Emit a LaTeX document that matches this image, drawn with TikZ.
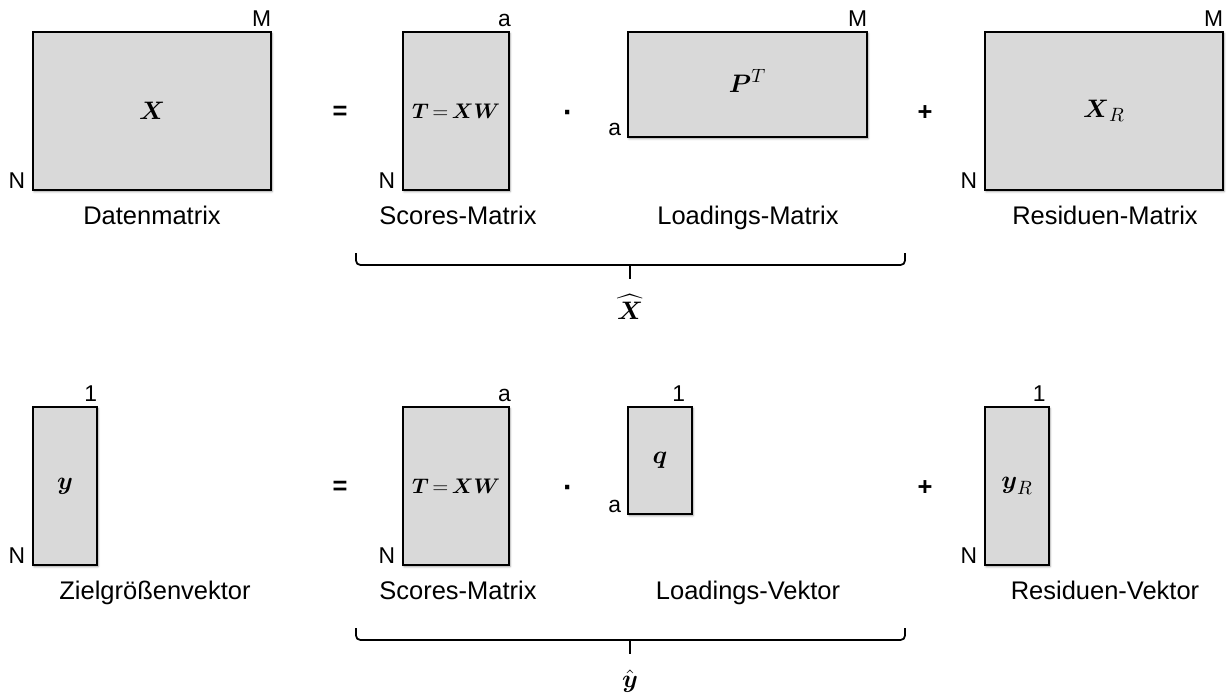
\documentclass[tikz,border=0pt]{standalone}
\usepackage{amsmath}
\usepackage{fontspec}
\setmainfont{Liberation Sans}
\usetikzlibrary{positioning,fit,shadows.blur}
\definecolor{boxgray}{HTML}{D9D9D9}
\newcommand{\scoreseq}{\boldsymbol{T}\,{=}\,\boldsymbol{XW}}
\tikzset{
    matbox/.style={draw=black, line width=0.6pt, fill=boxgray, inner sep=0pt,
        blur shadow={shadow xshift=0.6pt, shadow yshift=-0.9pt,
            shadow blur radius=1.2pt, shadow opacity=40}},
    entry/.style={inner sep=0pt, font=\fontsize{15}{18}\selectfont},
    smallentry/.style={inner sep=0pt, font=\fontsize{12.5}{15}\selectfont},
    dimlabel/.style={inner sep=0pt, font=\fontsize{13}{15}\selectfont},
    caption/.style={inner sep=0pt, anchor=base, font=\fontsize{14.5}{17}\selectfont},
    oper/.style={inner sep=0pt, font=\fontsize{14.5}{17}\selectfont\bfseries},
    mult/.style={inner sep=0pt, anchor=base, font=\fontsize{17}{19}\selectfont\bfseries},
    bracket/.style={line width=1pt, rounded corners=2.5pt},
}

\begin{document}
\begin{tikzpicture}[x=0.02cm, y=-0.02cm]
\useasboundingbox (0,0) rectangle (1227,697);
% upper row: X = T P^T + X_R
\node[matbox, fit={(33,32) (271,190)}] (X) {};
\node[entry] (Xtxt) at (X) {$\boldsymbol{X}$};
\node[dimlabel, anchor=base east] (XM) at ([yshift=2.8pt]X.north east) {M};
\node[dimlabel, anchor=base east] (XN) at ([xshift=-4pt, yshift=1pt]X.south west) {N};
\node[caption] (Xcap) at (152,224) {Datenmatrix};
\node[oper] (eqX) at (340,113) {=};
\node[matbox, fit={(403,32) (509,190)}] (T) {};
\node[smallentry] (Ttxt) at (T) {$\scoreseq$};
\node[dimlabel, anchor=base east] (Ta) at ([xshift=1pt, yshift=2.8pt]T.north east) {a};
\node[dimlabel, anchor=base east] (TN) at ([xshift=-4pt, yshift=1pt]T.south west) {N};
\node[caption] (Tcap) at (458,224) {Scores-Matrix};
\node[mult] (dotX) at (568,122) {·};
\node[matbox, fit={(628,32) (867,137)}] (P) {};
\node[entry] (Ptxt) at ([yshift=2pt]P) {$\boldsymbol{P}^T$};
\node[dimlabel, anchor=base east] (PM) at ([yshift=2.8pt]P.north east) {M};
\node[dimlabel, anchor=base east] (Pa) at ([xshift=-3.5pt, yshift=1pt]P.south west) {a};
\node[caption] (Pcap) at (748,224) {Loadings-Matrix};
\node[oper] (plusX) at (925,113) {+};
\node[matbox, fit={(985,32) (1223,190)}] (XR) {};
\node[entry] (XRtxt) at (XR) {$\boldsymbol{X}_R$};
\node[dimlabel, anchor=base east] (XRM) at ([yshift=2.8pt]XR.north east) {M};
\node[dimlabel, anchor=base east] (XRN) at ([xshift=-4pt, yshift=1pt]XR.south west) {N};
\node[caption] (XRcap) at (1105,224) {Residuen-Matrix};
% bracket under T P^T
\coordinate (bxl) at (356,253);
\coordinate (bxr) at (905,253);
\coordinate (bxm) at (630,265);
\coordinate (bxt) at (630,279);
\draw[bracket] (bxl) |- (bxm) -| (bxr);
\draw[line width=1pt] (bxm) -- (bxt);
\node[entry] (Xhat) at (630,307) {$\widehat{\boldsymbol{X}}$};

% lower row: y = T q + y_R
\node[matbox, fit={(33,407) (97,565)}] (y) {};
\node[entry] (ytxt) at (y) {$\boldsymbol{y}$};
\node[dimlabel, anchor=base east] (y1) at ([yshift=2.8pt]y.north east) {1};
\node[dimlabel, anchor=base east] (yN) at ([xshift=-4pt, yshift=1pt]y.south west) {N};
\node[caption] (ycap) at (155,599) {Zielgrößenvektor};
\node[oper] (eqy) at (340,488) {=};
\node[matbox, fit={(403,407) (509,565)}] (T2) {};
\node[smallentry] (T2txt) at (T2) {$\scoreseq$};
\node[dimlabel, anchor=base east] (T2a) at ([xshift=1pt, yshift=2.8pt]T2.north east) {a};
\node[dimlabel, anchor=base east] (T2N) at ([xshift=-4pt, yshift=1pt]T2.south west) {N};
\node[caption] (T2cap) at (458,599) {Scores-Matrix};
\node[mult] (doty) at (568,497) {·};
\node[matbox, fit={(628,407) (692,514)}] (q) {};
\node[entry] (qtxt) at (q) {$\boldsymbol{q}$};
\node[dimlabel, anchor=base east] (q1) at ([xshift=-4pt, yshift=2.8pt]q.north east) {1};
\node[dimlabel, anchor=base east] (qa) at ([xshift=-3.5pt, yshift=1pt]q.south west) {a};
\node[caption] (qcap) at (748,599) {Loadings-Vektor};
\node[oper] (plusy) at (925,488) {+};
\node[matbox, fit={(985,407) (1049,565)}] (yR) {};
\node[entry] (yRtxt) at (yR) {$\boldsymbol{y}_R$};
\node[dimlabel, anchor=base east] (yR1) at ([xshift=-2pt, yshift=2.8pt]yR.north east) {1};
\node[dimlabel, anchor=base east] (yRN) at ([xshift=-4pt, yshift=1pt]yR.south west) {N};
\node[caption] (yRcap) at (1105,599) {Residuen-Vektor};
% bracket under T q
\coordinate (byl) at (356,628);
\coordinate (byr) at (905,628);
\coordinate (bym) at (630,640);
\coordinate (byt) at (630,654);
\draw[bracket] (byl) |- (bym) -| (byr);
\draw[line width=1pt] (bym) -- (byt);
\node[entry] (yhat) at (630,681) {$\hat{\boldsymbol{y}}$};
\end{tikzpicture}
\end{document}
